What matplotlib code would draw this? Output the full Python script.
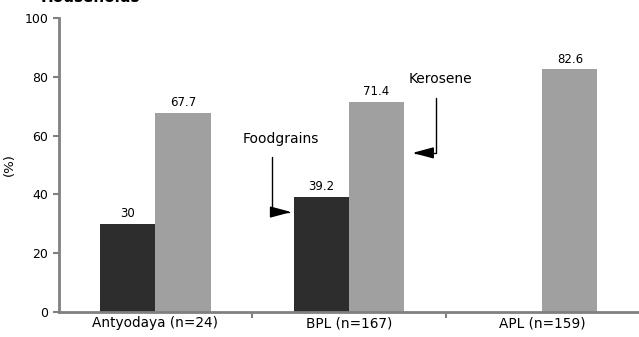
import matplotlib.pyplot as plt
import numpy as np

categories = ['Antyodaya (n=24)', 'BPL (n=167)', 'APL (n=159)']
foodgrains = [30, 39.2, None]
kerosene = [67.7, 71.4, 82.6]

plt.rcParams['font.family'] = ['DejaVu Sans']

fig = plt.figure(figsize=(6.39, 3.37), dpi=100)
ax = fig.add_axes([0.092, 0.074, 0.908, 0.873])

x = np.arange(len(categories))
w = 0.285
for i, v in enumerate(foodgrains):
    if v is None:
        continue
    ax.bar(x[i] - w / 2, v, w, color='#2d2d2d')
    ax.text(x[i] - w / 2, v + 1.2, '%g' % v, ha='center', va='bottom', fontsize=8.5)
for i, v in enumerate(kerosene):
    ax.bar(x[i] + w / 2, v, w, color='#a0a0a0')
    ax.text(x[i] + w / 2, v + 1.2, '%g' % v, ha='center', va='bottom', fontsize=8.5)

ax.set_xlim(-0.5, 2.5)
ax.set_ylim(0, 100)
ax.set_yticks(range(0, 101, 20))
ax.set_xticks(x)
ax.set_xticklabels(categories, fontsize=9.8)
ax.tick_params(axis='x', length=0, pad=3)
ax.set_xticks([0.5, 1.5], minor=True)
ax.tick_params(axis='x', which='minor', length=4, width=1.5, color='#808080', direction='out')
ax.tick_params(axis='y', length=4, width=1.5, color='#808080', labelsize=9)
for s in ['top', 'right']:
    ax.spines[s].set_visible(False)
for s in ['left', 'bottom']:
    ax.spines[s].set_color('#808080')
    ax.spines[s].set_linewidth(2)
ax.set_ylabel('(%)', fontsize=9.5, labelpad=6)

# arrow call-outs
ap = dict(arrowstyle='-|>,head_width=0.35,head_length=1.3', color='black', lw=1,
          shrinkA=0, shrinkB=0, connectionstyle='angle,angleA=90,angleB=0,rad=0')
ax.annotate('', xy=(0.702, 34.0), xytext=(0.604, 52.7), arrowprops=ap)
ax.text(0.448, 58.8, 'Foodgrains', fontsize=10, va='center', ha='left')
ax.annotate('', xy=(1.329, 54.1), xytext=(1.448, 72.8), arrowprops=ap)
ax.text(1.308, 79.3, 'Kerosene', fontsize=10, va='center', ha='left')

fig.text(0.063, 1.007, 'Households', fontsize=11, weight='bold', va='center')

fig.savefig('out.png', dpi=100)
